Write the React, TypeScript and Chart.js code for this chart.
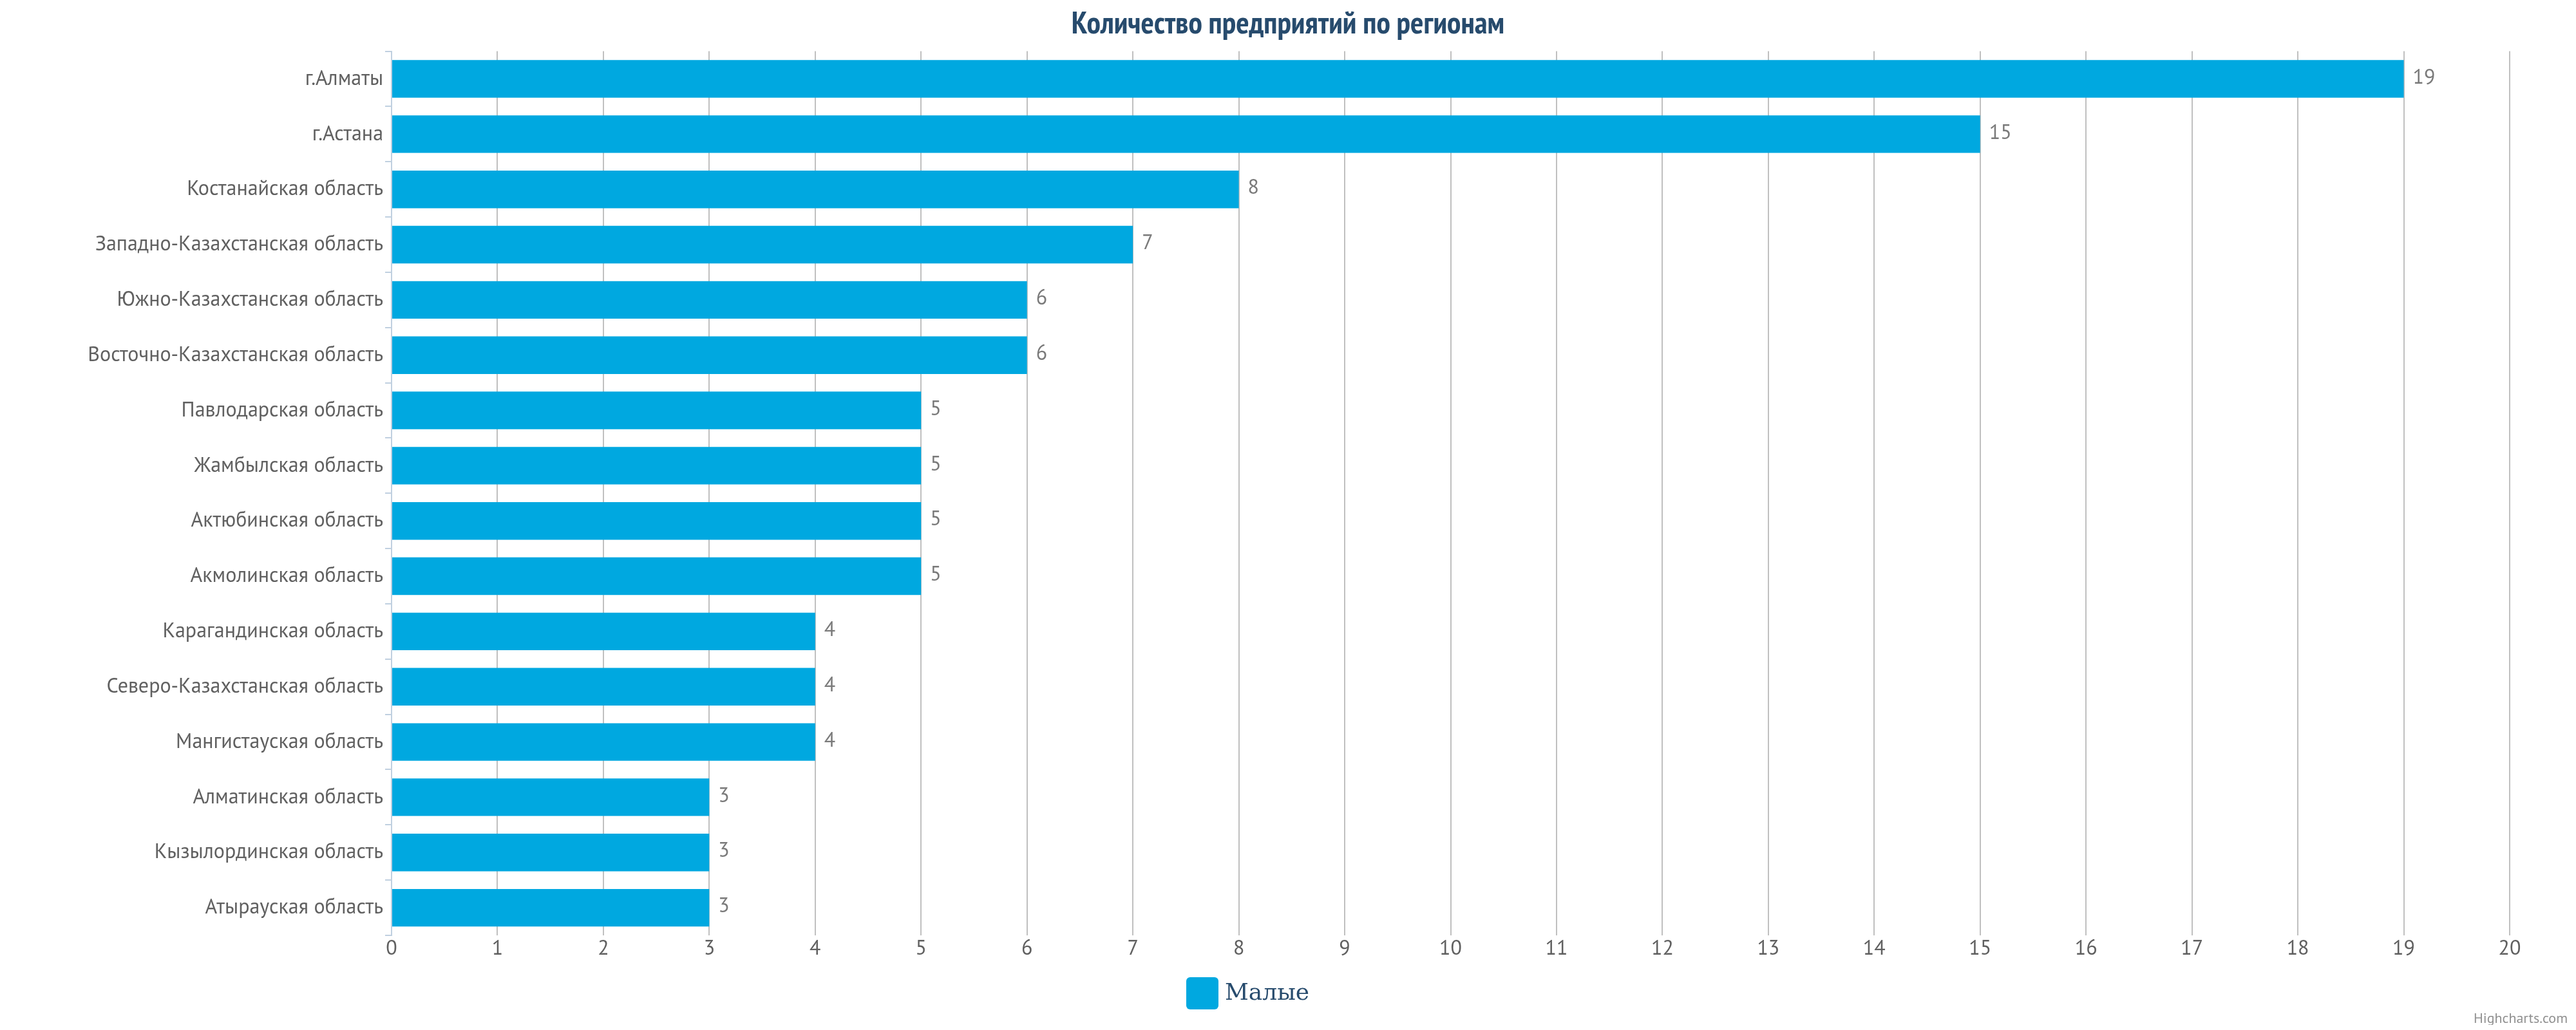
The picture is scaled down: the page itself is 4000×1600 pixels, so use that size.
import React, { useEffect, useRef } from "react";
import { Chart, registerables } from "chart.js";

Chart.register(...registerables);

const titleText = "Количество предприятий по регионам";
const seriesName = "Малые";
const creditText = "Highcharts.com";

const categories = [
  "г.Алматы",
  "г.Астана",
  "Костанайская область",
  "Западно-Казахстанская область",
  "Южно-Казахстанская область",
  "Восточно-Казахстанская область",
  "Павлодарская область",
  "Жамбылская область",
  "Актюбинская область",
  "Акмолинская область",
  "Карагандинская область",
  "Северо-Казахстанская область",
  "Мангистауская область",
  "Алматинская область",
  "Кызылординская область",
  "Атырауская область",
];

const values = [19, 15, 8, 7, 6, 6, 5, 5, 5, 5, 4, 4, 4, 3, 3, 3];

const axisMin = 0;
const axisMax = 20;
const axisStep = 1;

const BAR_COLOR = "#00a8e0";
const FONT = '"PT Sans Narrow", "Liberation Sans Narrow", "Roboto Condensed", "Roboto", sans-serif';
const FONT_REG = '"PT Sans", "Liberation Sans Narrow", "Roboto", sans-serif';

const dataLabelPlugin = {
  id: "dataLabels",
  afterDatasetsDraw(chart: any) {
    const ctx = chart.ctx;
    const meta = chart.getDatasetMeta(0);
    ctx.save();
    ctx.font = `32px ${FONT_REG}`;
    ctx.fillStyle = "#7a7a7a";
    ctx.textAlign = "left";
    ctx.textBaseline = "middle";
    meta.data.forEach((bar: any, i: number) => {
      const v = chart.data.datasets[0].data[i];
      ctx.fillText(String(v), bar.x + 14, bar.y - 2);
    });
    ctx.restore();
  },
};

const legendCreditPlugin = {
  id: "legendCredit",
  afterDraw(chart: any) {
    const ctx = chart.ctx;
    ctx.save();
    // legend item
    const bx = 1834;
    const by = 1510;
    const bs = 50;
    ctx.fillStyle = chart.data.datasets[0].backgroundColor;
    ctx.beginPath();
    (ctx as any).roundRect(bx, by, bs, bs, 6);
    ctx.fill();
    ctx.font = `36px "DejaVu Serif", serif`;
    ctx.fillStyle = "#274b6d";
    ctx.textAlign = "left";
    ctx.textBaseline = "middle";
    ctx.fillText(chart.data.datasets[0].label, bx + bs + 10, by + bs / 2 + 1);
    // credit
    ctx.font = `22px ${FONT_REG}`;
    ctx.fillStyle = "#909090";
    ctx.textAlign = "right";
    ctx.fillText(creditText, chart.width - 5, chart.height - 9);
    ctx.restore();
  },
};

export default function App() {
  const ref = useRef<HTMLCanvasElement | null>(null);

  useEffect(() => {
    if (!ref.current) return;
    const chart = new Chart(ref.current, {
      type: "bar",
      data: {
        labels: categories,
        datasets: [
          {
            label: seriesName,
            data: values,
            backgroundColor: BAR_COLOR,
            borderWidth: 0,
            barPercentage: 0.68,
            categoryPercentage: 1,
          },
        ],
      },
      plugins: [dataLabelPlugin, legendCreditPlugin],
      options: {
        indexAxis: "y",
        animation: false,
        responsive: false,
        maintainAspectRatio: false,
        layout: { padding: { left: 95, right: 95, top: 0, bottom: 84 } },
        plugins: {
          title: {
            display: true,
            text: titleText,
            color: "#274b6d",
            font: { family: FONT, size: 48, weight: "bold" },
            padding: { top: 1, bottom: 13 },
          },
          legend: { display: false },
          tooltip: { enabled: false },
        },
        scales: {
          x: {
            type: "linear",
            min: axisMin,
            max: axisMax,
            position: "bottom",
            ticks: {
              stepSize: axisStep,
              color: "#606060",
              font: { family: FONT_REG, size: 32 },
              padding: 2,
            },
            grid: {
              color: "#c0c0c0",
              lineWidth: 2,
              drawTicks: false,
            },
            border: { display: false },
            afterFit(scale: any) {
              scale.height = 55;
            },
          },
          y: {
            type: "category",
            ticks: {
              color: "#606060",
              font: { family: FONT_REG, size: 32 },
              padding: 3,
              autoSkip: false,
            },
            grid: {
              display: true,
              drawOnChartArea: false,
              drawTicks: true,
              tickLength: 10,
              color: "#c0d0e0",
              lineWidth: 2,
            },
            border: { display: true, color: "#c0d0e0", width: 2 },
            afterFit(scale: any) {
              scale.width = 505;
            },
          },
        },
      },
    });
    return () => chart.destroy();
  }, []);

  return <canvas ref={ref} width={3984} height={1584} style={{ display: "block" }} />;
}
